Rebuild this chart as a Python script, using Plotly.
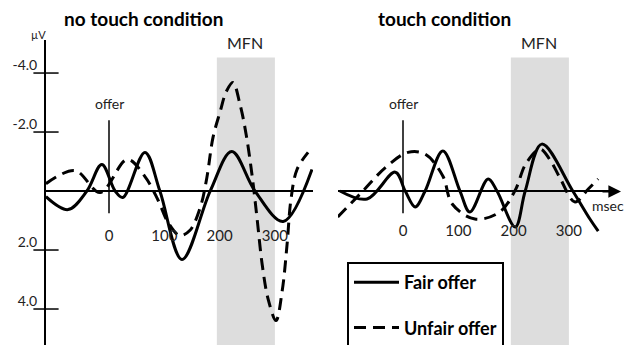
import plotly.graph_objects as go

# ---------------- data ----------------
# No touch condition
nt_fair_t = [-114, -74, -40, -13, 11, 25, 65, 92, 132, 183, 222, 264, 315, 367]
nt_fair_v = [0.19, 0.63, 0.0, -0.90, 0.0, 0.22, -1.31, 0.0, 2.32, 0.0, -1.34, 0.0, 1.03, -0.73]

nt_unfair_t = [-114, -61, -16, 33, 65, 89, 107, 128, 146, 165, 177, 188, 201, 212, 224,
               237, 248, 259, 268, 277, 288, 302, 313, 322, 329, 340, 360]
nt_unfair_v = [-0.25, -0.69, 0.05, -1.07, -0.49, 0.32, 1.07, 1.51, 1.34, 0.56, -0.46, -1.81,
               -2.69, -3.37, -3.68, -2.93, -1.92, -0.49, 0.97, 2.49, 3.68, 4.39, 3.41, 1.81,
               0.29, -0.73, -1.31]

# Touch condition
t_fair_t = [-114, -65, -14, 4, 22, 40, 72, 103, 121, 154, 170, 203, 221, 251, 307, 338, 353]
t_fair_v = [0.0, 0.27, -0.64, 0.0, 0.54, 0.0, -1.36, 0.0, 0.71, -0.41, 0.0, 1.22, 0.0,
            -1.59, 0.0, 0.95, 1.36]

t_unfair_t = [-118, -74, -31, 9, 40, 72, 89, 130, 175, 203, 222, 248, 266, 284, 311, 335, 353]
t_unfair_v = [0.88, 0.03, -0.81, -1.31, -1.25, -0.51, 0.44, 0.95, 0.71, -0.03, -0.92,
              -1.42, -1.05, -0.44, 0.37, -0.07, -0.41]

x_ticks = [0, 100, 200, 300]
x_tick_labels = ["0", "100", "200", "300"]
y_ticks = [-4.0, -2.0, 2.0, 4.0]
y_tick_labels = ["-4.0", "-2.0", "2.0", "4.0"]
mfn_window = [195, 300]
offer_time = 0
series_names = ["Fair offer", "Unfair offer"]
panel_titles = ["no touch condition", "touch condition"]

# ---------------- layout constants ----------------
# the page body has an 8px margin, so the figure is drawn 8px in from the window edge
OFF = 8
FW, FH = 632 - OFF, 345 - OFF

def px(x):          # window pixel -> paper x
    return (x - OFF) / FW

def py(y):          # window pixel -> paper y
    return 1 - (y - OFF) / FH

PX_PER_MS = 0.553
Y_RANGE = [5.22, -5.12]            # reversed: negative up
Y_TOP_PX = 40

def x_range(left_px, right_px, origin_px):
    return [(left_px - origin_px) / PX_PER_MS, (right_px - origin_px) / PX_PER_MS]

left_dom_px, left_origin = (46, 313), 109
right_dom_px, right_origin = (338, 616), 403
xr1 = x_range(*left_dom_px, left_origin)
xr2 = x_range(*right_dom_px, right_origin)

FONT = "Lato"
TXT = "#222"
solid = dict(color="black", width=3)
dashed = dict(color="black", width=3, dash="12px,7px")

fig = go.Figure()

# left panel
fig.add_trace(go.Scatter(x=nt_fair_t, y=nt_fair_v, mode="lines", line=dict(shape="spline", **solid),
                         name=series_names[0], legendgroup="fair", xaxis="x", yaxis="y"))
fig.add_trace(go.Scatter(x=nt_unfair_t, y=nt_unfair_v, mode="lines", line=dict(shape="spline", **dashed),
                         name=series_names[1], legendgroup="unfair", xaxis="x", yaxis="y"))
# right panel
fig.add_trace(go.Scatter(x=t_fair_t, y=t_fair_v, mode="lines", line=dict(shape="spline", **solid),
                         name=series_names[0], legendgroup="fair", showlegend=False, xaxis="x2", yaxis="y2"))
fig.add_trace(go.Scatter(x=t_unfair_t, y=t_unfair_v, mode="lines", line=dict(shape="spline", **dashed),
                         name=series_names[1], legendgroup="unfair", showlegend=False, xaxis="x2", yaxis="y2"))

# y-axis tick marks crossing the axis line
fig.add_trace(go.Scatter(x=[xr1[0]] * len(y_ticks), y=y_ticks, mode="markers",
                         marker=dict(symbol="line-ew", size=18, line=dict(color="black", width=1.5)),
                         cliponaxis=False, showlegend=False, hoverinfo="skip", xaxis="x", yaxis="y"))

# shaded MFN windows and offer markers
for xr_, yr_ in (("x", "y"), ("x2", "y2")):
    fig.add_shape(type="rect", xref=xr_, yref=yr_, x0=mfn_window[0], x1=mfn_window[1],
                  y0=-4.53, y1=Y_RANGE[0], fillcolor="#dddddd", line_width=0, layer="below")
    fig.add_shape(type="line", xref=xr_, yref=yr_, x0=offer_time, x1=offer_time,
                  y0=-2.4, y1=0.75, line=dict(color="black", width=1.5))
    fig.add_annotation(xref=xr_, yref=yr_, x=offer_time, y=-2.97, text="offer", showarrow=False,
                       xanchor="center", font=dict(family=FONT, size=14, color=TXT))
    fig.add_annotation(xref=xr_, yref=yr_, x=sum(mfn_window) / 2 - 2, y=-5.03, text="MFN",
                       showarrow=False, xanchor="center", font=dict(family=FONT, size=16, color=TXT))

# arrow head on right time axis (paper coordinates so it is never hidden at the range edge)
fig.add_annotation(xref="paper", yref="paper", x=px(621), y=py(191.5), ax=-20, ay=0,
                   showarrow=True, arrowhead=2, arrowsize=1.4, arrowwidth=1.8, arrowcolor="black",
                   text="", standoff=0)
fig.add_annotation(xref="x2", yref="y2", x=370, y=0.5, text="msec", showarrow=False,
                   xanchor="center", font=dict(family=FONT, size=14, color=TXT))

# titles and unit
for cx, title in ((143, panel_titles[0]), (444, panel_titles[1])):
    fig.add_annotation(xref="paper", yref="paper", x=px(cx), y=1, text="<b>" + title + "</b>",
                       showarrow=False, xanchor="center", yanchor="top", borderpad=0, yshift=2,
                       font=dict(family=FONT, size=19, color="black"))
fig.add_annotation(xref="paper", yref="paper", x=px(39), y=py(35), text="µV",
                   showarrow=False, xanchor="center", yanchor="middle",
                   font=dict(family=FONT, size=11, color=TXT))

y_dom = [0, py(Y_TOP_PX)]
xaxis_common = dict(tickmode="array", tickvals=x_ticks, ticktext=x_tick_labels, showgrid=False,
                    zeroline=False, showline=False, ticks="", anchor="free",
                    tickfont=dict(family=FONT, size=15, color=TXT), fixedrange=True)

fig.update_layout(
    width=FW, height=FH, margin=dict(l=0, r=0, t=0, b=0, autoexpand=False),
    paper_bgcolor="white", plot_bgcolor="rgba(0,0,0,0)",
    xaxis=dict(domain=[px(left_dom_px[0]), px(left_dom_px[1])], range=xr1, position=py(225),
               **xaxis_common),
    xaxis2=dict(domain=[px(right_dom_px[0]), px(right_dom_px[1])], range=xr2, position=py(220),
                **xaxis_common),
    yaxis=dict(domain=y_dom, range=Y_RANGE, anchor="x", showline=True, linewidth=2, linecolor="black",
               zeroline=True, zerolinewidth=2, zerolinecolor="black", showgrid=False,
               tickmode="array", tickvals=y_ticks, ticktext=y_tick_labels, ticks="",
               ticklabelshift=8, ticklabelstandoff=4,
               tickfont=dict(family=FONT, size=14, color=TXT)),
    yaxis2=dict(domain=y_dom, range=Y_RANGE, anchor="x2", showline=False, showticklabels=False,
                zeroline=True, zerolinewidth=2, zerolinecolor="black", showgrid=False),
    showlegend=True,
    legend=dict(x=px(347), y=py(262), xanchor="left", yanchor="top", bordercolor="black",
                borderwidth=2, bgcolor="white", traceorder="grouped", tracegroupgap=19,
                itemwidth=45, font=dict(family=FONT, size=18, color="black", weight="bold")),
)

fig.write_html("out.html")
